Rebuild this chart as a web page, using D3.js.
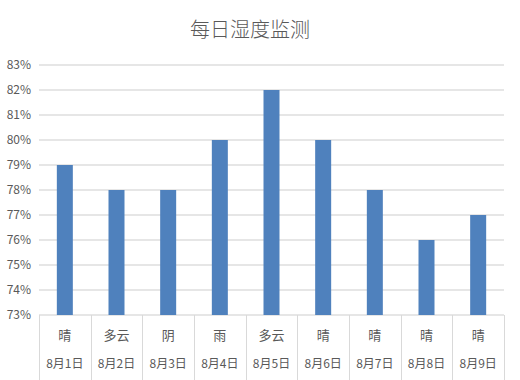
<!DOCTYPE html>
<html>
<head>
<meta charset="utf-8">
<script src="https://cdn.jsdelivr.net/npm/d3@7"></script>
<style>
  body { margin: 0; background: #fff; }
  text { font-family: "Noto Sans CJK SC", "Noto Sans", sans-serif; fill: #595959; }
</style>
</head>
<body>
<svg id="chart"></svg>
<script>
const dates = ["8月1日", "8月2日", "8月3日", "8月4日", "8月5日", "8月6日", "8月7日", "8月8日", "8月9日"];
const weather = ["晴", "多云", "阴", "雨", "多云", "晴", "晴", "晴", "晴"];
const humidity = [79, 78, 78, 80, 82, 80, 78, 76, 77];
const yTicks = [73, 74, 75, 76, 77, 78, 79, 80, 81, 82, 83];

const width = 520, height = 380;
const margin = {top: 65, right: 16, bottom: 65, left: 39};

const svg = d3.select("#chart")
    .attr("width", width)
    .attr("height", height);

const x = d3.scaleBand()
    .domain(dates)
    .range([margin.left, width - margin.right])
    .paddingInner(0)
    .paddingOuter(0);

const y = d3.scaleLinear()
    .domain([73, 83])
    .range([height - margin.bottom, margin.top]);

// title
svg.append("text")
    .attr("x", 250)
    .attr("y", 37)
    .attr("text-anchor", "middle")
    .style("font-size", "20px")
    .style("font-weight", "300")
    .text("每日湿度监测");

// gridlines
svg.append("g")
    .selectAll("line")
    .data(yTicks)
    .join("line")
    .attr("x1", margin.left)
    .attr("x2", width - margin.right)
    .attr("y1", d => Math.round(y(d)))
    .attr("y2", d => Math.round(y(d)))
    .attr("stroke", "#dedede")
    .attr("stroke-width", 1.5);

// y labels
svg.append("g")
    .selectAll("text")
    .data(yTicks)
    .join("text")
    .attr("x", margin.left - 8)
    .attr("y", d => y(d))
    .attr("dy", "0.35em")
    .attr("text-anchor", "end")
    .style("font-size", "12px")
    .text(d => d + "%");

// bars
const barW = 16;
svg.append("g")
    .selectAll("rect")
    .data(humidity)
    .join("rect")
    .attr("x", (d, i) => x(dates[i]) + x.bandwidth() / 2 - barW / 2)
    .attr("y", d => y(d))
    .attr("width", barW)
    .attr("height", d => y(73) - y(d))
    .attr("fill", "#4f81bd");

// category separators
const base = Math.round(y(73));
const bounds = dates.map(d => x(d)).concat([x.range()[1]]);
svg.append("g")
    .selectAll("line")
    .data(bounds)
    .join("line")
    .attr("x1", d => Math.round(d) + 0.5)
    .attr("x2", d => Math.round(d) + 0.5)
    .attr("y1", base)
    .attr("y2", height)
    .attr("stroke", "#d9d9d9");

// weather labels
svg.append("g")
    .selectAll("text")
    .data(weather)
    .join("text")
    .attr("x", (d, i) => x(dates[i]) + x.bandwidth() / 2)
    .attr("y", 340)
    .attr("text-anchor", "middle")
    .style("font-size", "13px")
    .text(d => d);

// date labels
svg.append("g")
    .selectAll("text")
    .data(dates)
    .join("text")
    .attr("x", d => x(d) + x.bandwidth() / 2)
    .attr("y", 368)
    .attr("text-anchor", "middle")
    .style("font-size", "12px")
    .text(d => d);
</script>
</body>
</html>
